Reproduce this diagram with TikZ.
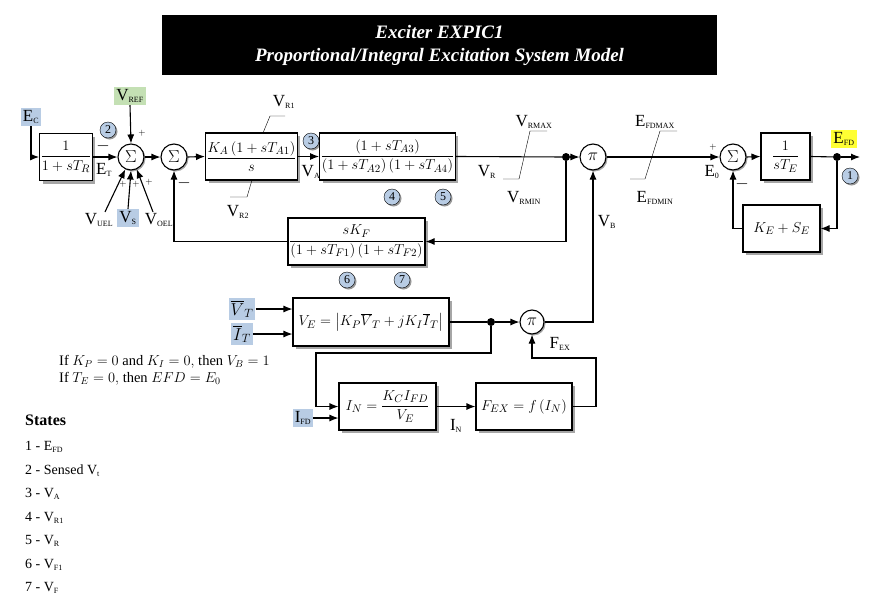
\documentclass[tikz,border=0pt]{standalone}
\usepackage{amsmath}
\usepackage{fontspec}
\setmainfont{Liberation Serif}
\usetikzlibrary{arrows.meta,shadows}
\definecolor{lblue}{HTML}{B8CCE4}
\definecolor{lgreen}{HTML}{C4E0B4}
\definecolor{lyel}{HTML}{FFFF33}
\newcommand\sbs[1]{\textsubscript{\footnotesize #1}}
\begin{document}
\begin{tikzpicture}[x=1pt,y=-1pt,
  font=\fontsize{17}{19}\selectfont,
  every node/.style={inner sep=1pt},
  mth/.style={font=\fontsize{15}{17}\selectfont},
  blk/.style={draw,line width=1.1pt,fill=white,mth,drop shadow={shadow xshift=3pt,shadow yshift=-3pt,fill=gray!70,opacity=1}},
  sum/.style={draw,line width=1.1pt,circle,fill=white,minimum size=26pt,inner sep=0pt,drop shadow={shadow xshift=1.5pt,shadow yshift=-1.5pt,fill=gray!70,opacity=1}},
  num/.style={draw,circle,fill=lblue,minimum size=16pt,inner sep=0pt,font=\fontsize{12}{13}\selectfont,drop shadow={shadow xshift=1.5pt,shadow yshift=-1.5pt,fill=gray!80,opacity=1}},
  dot/.style={circle,fill=black,minimum size=8pt,inner sep=0pt},
  arr/.style={line width=1.1pt,-{Latex[length=9pt,width=7pt]}},
  ln/.style={line width=1.1pt},
  tag/.style={inner sep=2pt}]
\useasboundingbox (0,0) rectangle (885,605);
% title
\node[fill=black,text=white,minimum width=555pt,minimum height=60pt,align=center,font=\fontsize{19}{23}\selectfont\bfseries\itshape] (title) at (439.5,45) {Exciter EXPIC1\\Proportional/Integral Excitation System Model};
% top row
\node[tag,fill=lblue] (EC) at (31,117) {E\sbs{C}};
\node[blk,minimum width=48pt,minimum height=47pt] (b1) at (66,157) {$\dfrac{1}{1+sT_R}$};
\node[num] (n2) at (108,130) {2};
\node[sum] (s1) at (131,157) {\LARGE$\Sigma$};
\node[tag,fill=lgreen] (VREF) at (130,96) {V\sbs{REF}};
\node (VUEL) at (99,220) {V\sbs{UEL}};
\node[tag,fill=lblue] (VS) at (128,218) {V\sbs{S}};
\node (VOEL) at (159,220) {V\sbs{OEL}};
\node[sum] (s2) at (174,157) {\LARGE$\Sigma$};
\node[blk,minimum width=83pt,minimum height=47pt] (bA) at (251.5,156.5) {$\dfrac{K_A\left(1+sT_{A1}\right)}{s}$};
\node[num] (n3) at (311,141) {3};
\node[blk,minimum width=125pt,minimum height=47pt] (bA3) at (387.5,156.5) {$\dfrac{\left(1+sT_{A3}\right)}{\left(1+sT_{A2}\right)\left(1+sT_{A4}\right)}$};
\node[num] (n4) at (392,197) {4};
\node[num] (n5) at (443,197) {5};
\node[dot] (d1) at (566,157) {};
\node[sum] (p1) at (593,157) {\LARGE$\pi$};
\node[sum] (s3) at (733,157) {\LARGE$\Sigma$};
\node[blk,minimum width=49pt,minimum height=47pt] (bE) at (785.5,156.5) {$\dfrac{1}{sT_E}$};
\node[dot] (d2) at (837,157) {};
\coordinate (out) at (860,157);
\node[tag,fill=lyel] (EFD) at (844,139) {E\sbs{FD}};
\node[num] (n1) at (850,176) {1};
\node[blk,minimum width=77pt,minimum height=47pt] (bKE) at (781.5,228.5) {$K_E+S_E$};
\node[blk,minimum width=137pt,minimum height=47pt] (bF) at (356.5,241.5) {$\dfrac{sK_F}{\left(1+sT_{F1}\right)\left(1+sT_{F2}\right)}$};
\node[num] (n6) at (347,280) {6};
\node[num] (n7) at (402,280) {7};
% labels
\node (ET) at (104,170) {E\sbs{T}};
\node at (103,146) {$-$};
\node at (142,133) {\small$+$};
\node at (123,184) {\small$+$};
\node at (136,184) {\small$+$};
\node at (149,182) {\small$+$};
\node at (184,183) {$-$};
\node (VA) at (311,172) {V\sbs{A}};
\node (VR) at (487,172) {V\sbs{R}};
\node (VR1) at (284,102) {V\sbs{R1}};
\node (VR2) at (238,212) {V\sbs{R2}};
\node (VRMAX) at (534,122) {V\sbs{RMAX}};
\node (VRMIN) at (524,198) {V\sbs{RMIN}};
\node (EFDMAX) at (655,122) {E\sbs{FDMAX}};
\node (EFDMIN) at (655,198) {E\sbs{FDMIN}};
\node (VB) at (607,222) {V\sbs{B}};
\node (E0) at (712,172) {E\sbs{0}};
\node at (713,147) {\small$+$};
\node at (742,184) {$-$};
% limiter lines
\draw[thin] (285,116) -- (270,116) -- (263,133);
\draw[thin] (252,180) -- (247,197) -- (230,197);
\draw[thin] (547,131) -- (530,131) -- (519,179) -- (503,179);
\draw[thin] (677,131) -- (660,131) -- (645,179) -- (630,179);
% connectors top
\draw[arr] (EC.south) |- (b1.west);
\draw[arr] (b1.east) -- (s1.west);
\draw[arr] (VREF.south) -- (s1.north);
\draw[arr] ([xshift=6pt]VUEL.north) -- (s1.245);
\draw[arr] (VS.north) -- (s1.south);
\draw[arr] ([xshift=-6pt]VOEL.north) -- (s1.295);
\draw[arr] (s1.east) -- (s2.west);
\draw[arr] (s2.east) -- (bA.west);
\draw[arr] (bA.east) -- (bA3.west);
\draw[ln] (bA3.east) -- (d1);
\draw[arr] (d1) -- (p1.west);
\draw[arr] (p1.east) -- (s3.west);
\draw[arr] (s3.east) -- (bE.west);
\draw[ln] (bE.east) -- (d2);
\draw[arr] (d2) -- (out);
\draw[arr] (d2) |- (bKE.east);
\draw[arr] (bKE.west) -| (s3.south);
\draw[arr] (d1) |- (bF.east);
\draw[arr] (bF.west) -| (s2.south);
% lower part
\node[tag,fill=lblue] (VT) at (242,309) {$\overline{V}_T$};
\node[tag,fill=lblue] (IT) at (242,334) {$\overline{I}_T$};
\node[blk,minimum width=156pt,minimum height=48pt] (bVE) at (371,322) {$V_E=\left|K_P\overline{V}_T+jK_I\overline{I}_T\right|$};
\node[dot] (d3) at (491,322) {};
\node[sum,minimum size=24pt] (p2) at (532,322) {\LARGE$\pi$};
\node[blk,minimum width=97pt,minimum height=47pt] (bIN) at (387.5,406.5) {$I_N=\dfrac{K_CI_{FD}}{V_E}$};
\node[blk,minimum width=96pt,minimum height=47pt] (bFEX) at (524,406.5) {$F_{EX}=f\left(I_N\right)$};
\node[tag,fill=lblue] (IFD) at (303,418) {I\sbs{FD}};
\node (IN) at (456,426) {I\sbs{N}};
\node (FEX) at (560,344) {F\sbs{EX}};
\coordinate (c1) at (491,353);
\coordinate (c2) at (316,353);
\coordinate (c3) at (596,406.5);
\coordinate (c4) at (596,358);
\draw[arr] (VT.east) -- (VT.east -| bVE.west);
\draw[arr] (IT.east) -- (IT.east -| bVE.west);
\draw[ln] (bVE.east) -- (d3);
\draw[arr] (d3) -- (p2.west);
\draw[arr] (p2.east) -| (p1.south);
\draw[arr] (d3) -- (c1) -- (c2) |- (bIN.west);
\draw[arr] (IFD.east) -- (IFD.east -| bIN.west);
\draw[arr] (bIN.east) -- (bFEX.west);
\draw[arr] (bFEX.east) -- (c3) -- (c4) -| (p2.south);
% notes
\begin{scope}[every node/.style={anchor=west,inner sep=1pt,font=\fontsize{14.5}{16}\selectfont}]
\node (note1) at (58,362) {If $K_P=0$ and $K_I=0,$ then $V_B=1$};
\node (note2) at (58,379) {If $T_E=0,$ then $EFD=E_0$};
\end{scope}
\node[anchor=west,font=\fontsize{16}{18}\selectfont\bfseries] (st) at (24,420) {States};
\begin{scope}[every node/.style={anchor=west,inner sep=1pt,font=\fontsize{14}{16}\selectfont}]
\node (st1) at (24,447) {1 - E\sbs{FD}};
\node (st2) at (24,471) {2 - Sensed V\sbs{t}};
\node (st3) at (24,494) {3 - V\sbs{A}};
\node (st4) at (24,518) {4 - V\sbs{R1}};
\node (st5) at (24,541) {5 - V\sbs{R}};
\node (st6) at (24,565) {6 - V\sbs{F1}};
\node (st7) at (24,588) {7 - V\sbs{F}};
\end{scope}
\end{tikzpicture}
\end{document}
